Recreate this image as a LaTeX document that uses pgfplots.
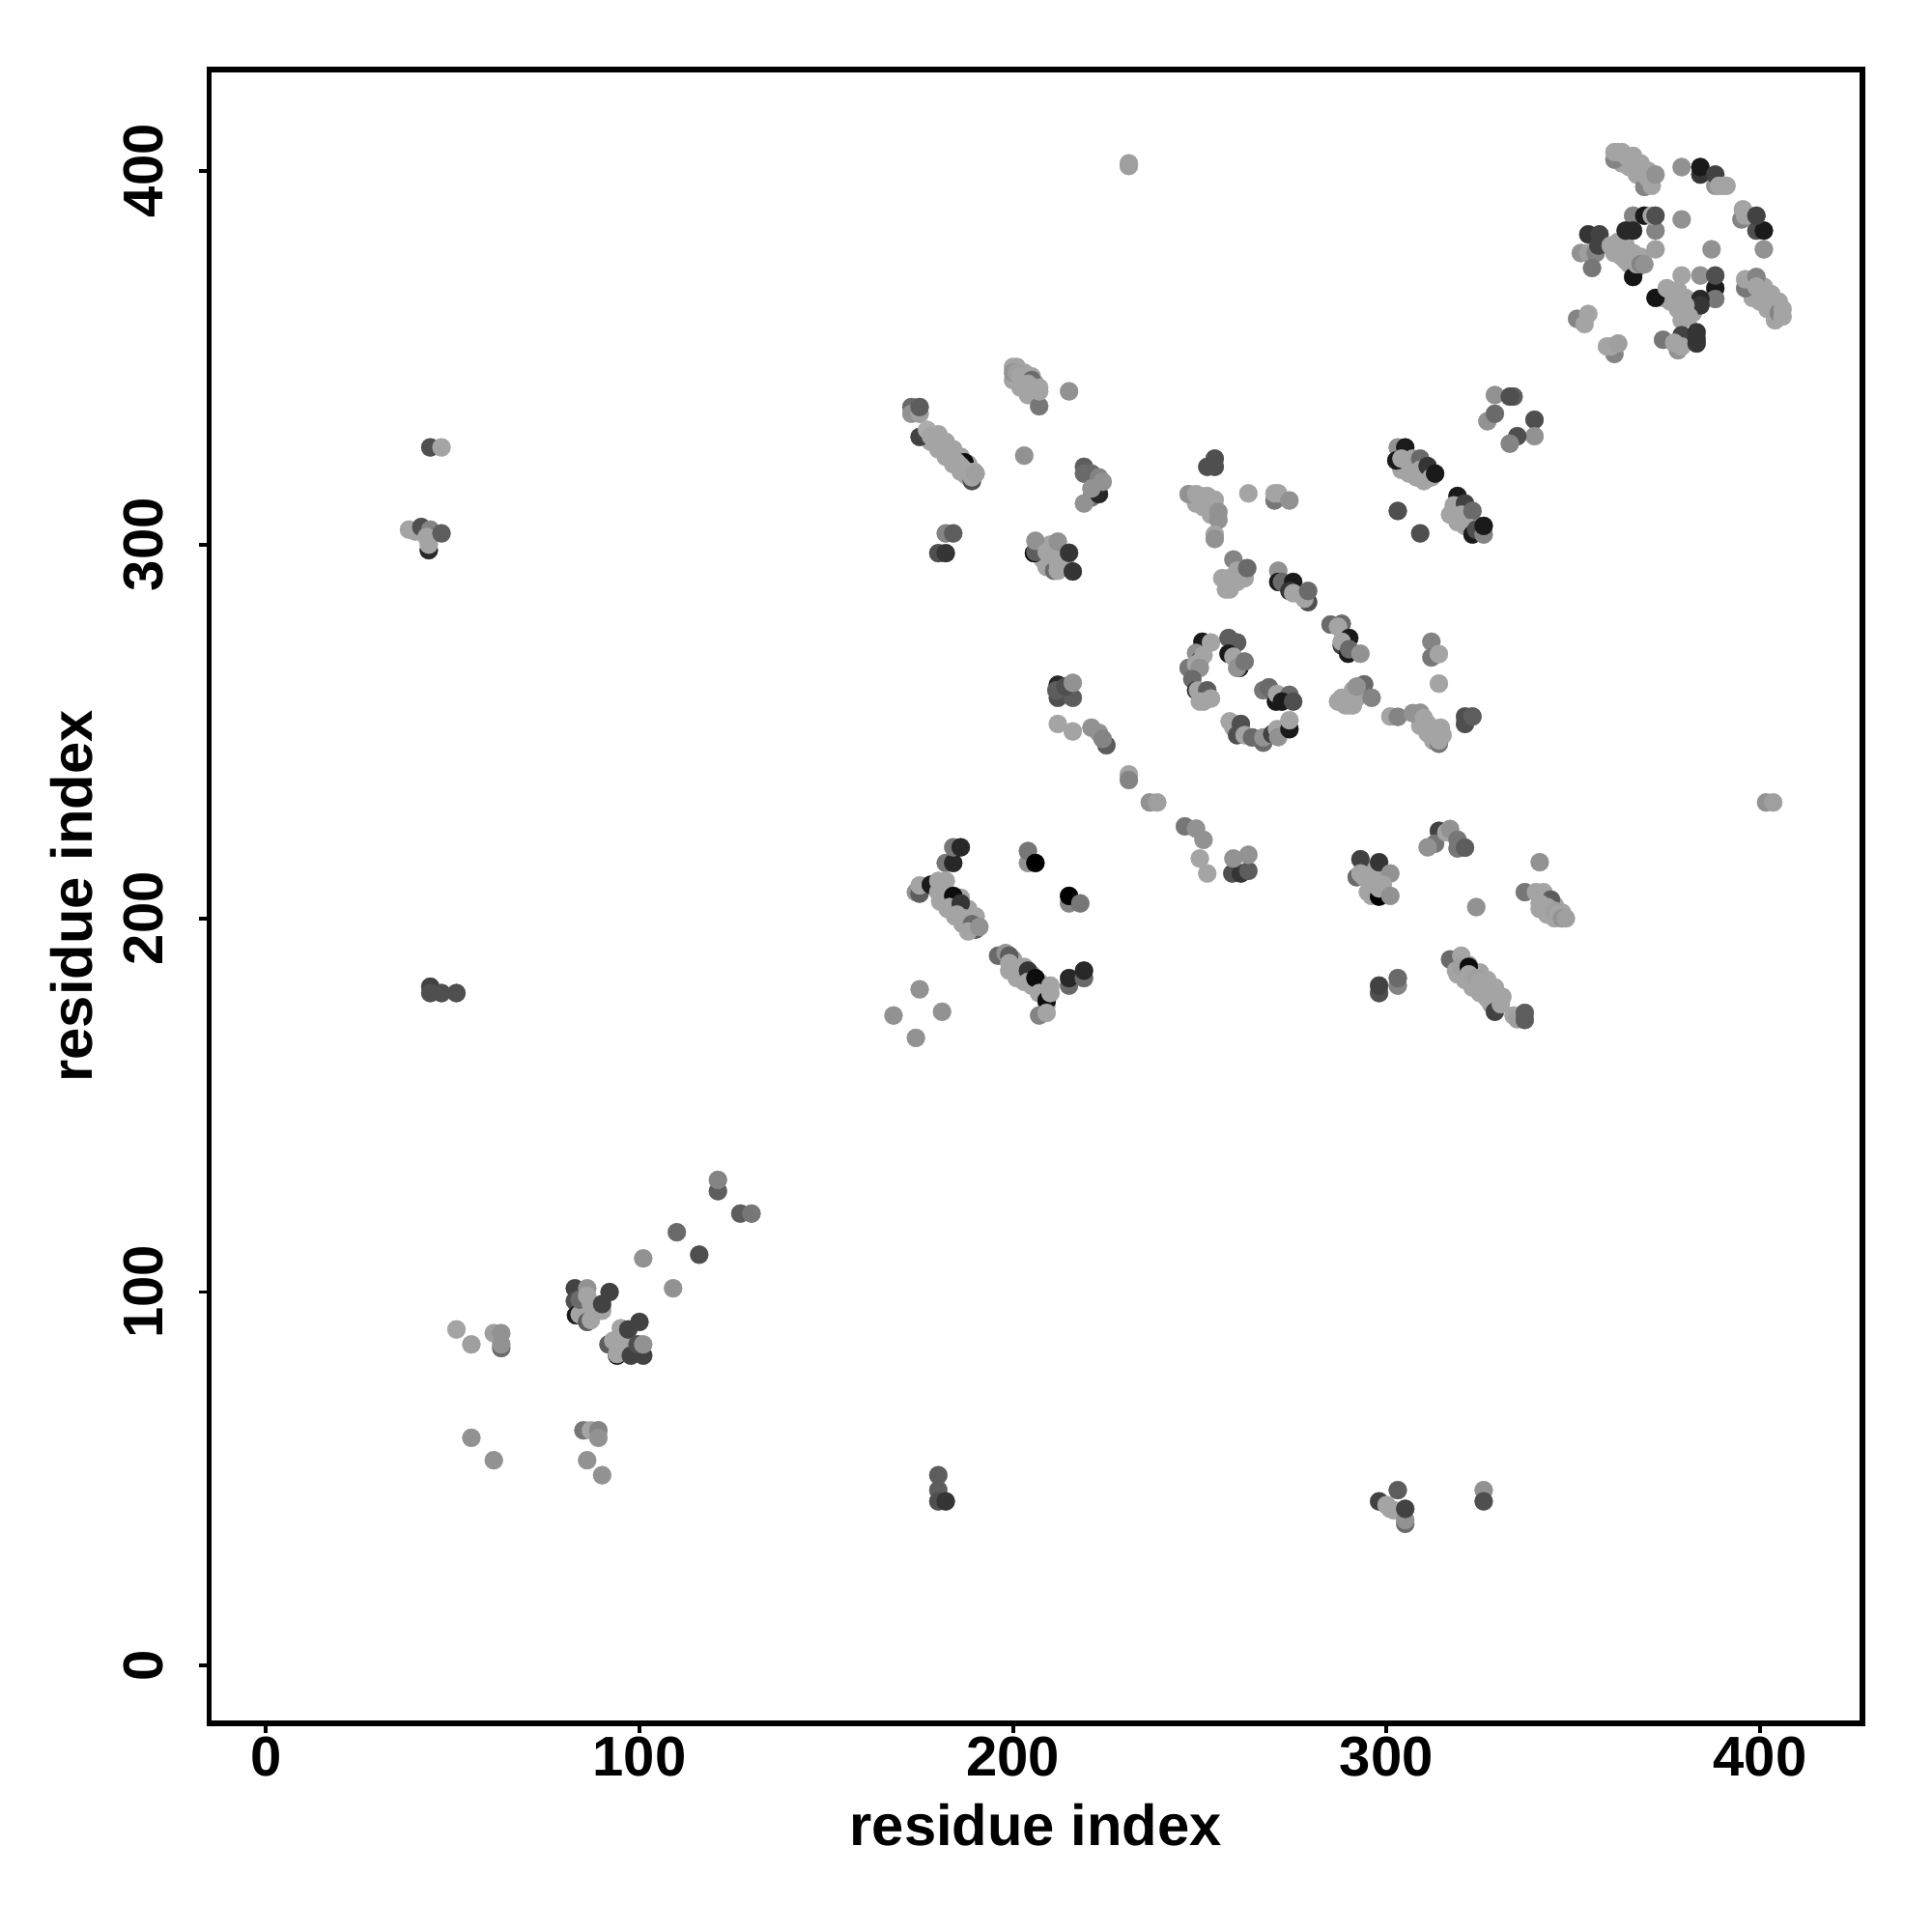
\documentclass[border=0pt]{standalone}
\usepackage{fontspec}
\setmainfont{Liberation Sans}
\usepackage{pgfplots}
\usepackage{pgfplotstable}
\pgfplotsset{compat=1.18}
\pgfplotstableread{
x y g
363 402 .62
365 401 .62
367 399 .62
369 397 .62
366 404 .62
368 402 .62
370 400 .62
361 378 .62
363 377 .62
365 375 .62
367 374 .62
362 381 .62
364 380 .62
366 378 .62
368 377 .62
364 376 .62
374 366 .62
376 365 .62
378 363 .62
378 368 .62
380 366 .62
381 364 .62
382 362 .62
379 360 .62
398 366 .62
400 365 .62
402 363 .62
401 369 .62
403 367 .62
405 365 .62
404 360 .62
178 327.5 .62
180 325.5 .62
182 323.5 .62
184 321.5 .62
186 319.5 .62
187.5 318.5 .62
180 329.5 .62
182 327.5 .62
184 325.5 .62
186 323.5 .62
188 321.5 .62
200 344 .62
202 342 .62
204 340 .62
203 346 .62
205 345 .62
206 343 .62
249 311 .62
251 310 .62
253 308 .62
252 313 .62
254 312 .62
309 251.5 .62
311 249.5 .62
312.5 247.5 .62
314.5 251 .62
315 249 .62
180.5 204.5 .62
182.5 202.5 .62
184.5 200.5 .62
186.5 198.5 .62
186 205.5 .62
188 202.5 .62
190 200.5 .62
188 197 .62
200 189 .62
203 187 .62
205 185 .62
207 183 .62
199 186 .62
201 184 .62
203 183 .62
205 182 .62
207 180 .62
209 177 .62
319 185 .62
321 183.5 .62
323 181.5 .62
325 180 .62
327 178.5 .62
328 177 .62
322 187.5 .62
325 185.5 .62
327 183.5 .62
329 181.5 .62
331 179 .62
341 202.5 .62
343 201 .62
345 200 .62
345 203.5 .62
347 201.5 .62
295 207 .62
296 206 .62
297 212 .62
299 212 .62
295 213 .62
208 296 .62
210 300 .62
212 297 .62
209 294 .62
214 296 .62
211 298 .62
287 258 .62
289 259 .62
292 259 .62
293 260 .62
256 291 .62
258 289 .62
260 290 .62
262 291 .62
304 320 .62
306 319 .62
308 318 .62
310 317 .62
317 308 .62
319 306 .62
321 305 .62
323 306 .62
44 326 .3
47 326 .62
38.3 304 .62
40 303.5 .62
41.6 304.7 .3
43.6 298.5 .15
43.6 300 .62
44 304 .5
43 302 .62
47 303 .35
44 181.7 .25
44 180 .3
47 180 .3
51 180 .3
231 401.3 .6
231 402 .6
231 238.5 .62
231 237 .5
236.6 231 .55
238.6 231 .6
246 224.6 .45
249 224 .55
251 221 .55
250 216 .62
252 212 .62
212 252 .62
216 250 .62
221 251 .55
223 249.6 .55
225 246.3 .35
224 248 .5
212 262.5 .15
212 259 .3
216 259 .35
211.6 261 .35
214 262 .3
216 263 .55
258.7 212 .3
261 212 .2
263 212.7 .35
259 216 .55
263 217 .55
401.6 231 .55
403.5 231 .6
334 339.6 .35
329 340 .55
333 339.6 .3
327 333 .55
329 335 .4
339.6 333.4 .3
339.6 329 .55
335 329 .3
333 327 .5
51 90 .62
55 86 .6
61 89 .6
63 85 .4
63 86 .55
63 89 .55
55 61 .55
61 55 .55
85 63 .45
87 63 .62
89 63 .5
89 61 .55
86 55 .55
90 51 .55
101 109 .55
109 101 .55
110 116 .4
116 110 .3
121 127 .35
121 130 .5
127 121 .35
130 121 .45
180 51 .35
180 47 .35
180 44 .3
182 44 .2
298 44 .25
300 43 .62
302 41.6 .62
303 47 .35
301 42 .62
305 38 .4
305 39 .55
305 42 .25
326 47 .55
326 44 .3
82.7 101 .25
82.7 97.6 .3
83 93.8 .1
84 94 .62
84 98 .4
86 101 .55
86 92 .35
87 92.5 .62
86 99 .62
87 96.8 .62
90 95 .62
92 100 .25
90 96.8 .25
91.7 86 .35
93 87 .62
94 83 .1
94 83.4 .62
95 90.3 .62
96 86.4 .62
97 90 .25
100 92 .25
97.7 83 .25
101 83 .25
99.5 86 .3
101 86 .55
361 403 .5
361 405 .62
362 405 .62
363 405 .62
364 404 .62
365 403 .62
366 402 .62
367 401 .62
368 400 .62
369 395.7 .5
371 396 .62
369 399 .62
370 398 .62
371 398 .62
372 399 .55
379 401 .55
384 399 .2
384 401 .1
388 396 .55
388 399 .25
389 396 .62
390 396 .62
391 396 .62
372 384 .5
366 388 .5
369 388 .1
371 388 .62
372 388 .3
379 387 .55
372 379 .6
387 379 .55
401 379 .55
399 384 .3
401 384 .1
395 387 .5
395.4 389.7 .62
396 388 .62
399 388 .25
364 384 .15
366 384 .15
354 383 .2
357 383 .25
352 378 .55
354 378 .6
356 378 .5
355 374 .45
356.7 380 .25
360 380 .62
361 380 .62
362 379 .62
363 379 .62
364 378 .62
365 377 .62
366 371.6 .08
366 376 .62
367 375 .62
368 375 .5
369 375 .55
379 372 .62
384 372 .55
388 368.6 .1
388 365.7 .45
388 372 .3
384 365.7 .15
384 364 .2
372 366 .08
375 368.6 .62
376 368 .62
377 367 .62
378 366 .62
379 365 .62
380 364 .62
380 362 .62
381 361 .62
396 368.6 .45
396 371 .62
399 371.6 .5
399 369 .62
400 368 .62
401 367 .62
402 366 .62
403 365 .62
404 364 .62
404 361 .62
405 362 .5
406 361 .62
406 363 .62
351 360.4 .5
354 361.7 .62
353 359 .62
361 351 .5
359 353 .62
360 353 .62
362 353.8 .6
374 354.8 .45
378 352 .55
379 356 .25
377 354 .62
379 353 .62
383 356.8 .2
383 355 .2
383 353.8 .2
172.8 336.8 .4
172.8 335 .55
175 335 .6
175 336.8 .35
175 328.8 .25
177 330.7 .65
178 329 .62
179 328 .62
180 328 .62
181 326 .62
182 325 .62
183 324 .62
184 323 .62
187 322 .05
185 322 .62
186 321 .62
187 320 .62
189 317 .3
189 318 .62
189.6 319.5 .62
190 319 .6
200 347.5 .62
201 347.5 .62
200 346 .55
201 346 .6
202 345 .62
203 344 .62
205 344 .4
204 343 .62
205 342 .62
207 337 .45
207 341 .62
207 342 .62
215 341 .55
203 323.8 .55
219 320.8 .35
219 319 .4
221 319 .4
223 318 .5
221 312.6 .45
219 311 .55
223 313.5 .15
221 315 .55
224 316.8 .55
182 303 .5
184 303 .35
180 297.7 .3
182 297.7 .2
205.6 297.7 .05
206 298 .35
206 301 .55
209 298 .62
210 296 .62
211 293 .4
212 295 .62
212 300.8 .55
212 293 .62
213 294 .62
215 297.8 .2
216 292.8 .2
254 323 .3
252 320.8 .3
254 320.8 .3
247 313.5 .55
249 313.5 .62
250 313 .62
251 312 .62
252 311.5 .62
253 311 .62
254 310 .62
255 308.7 .55
255 306.6 .55
254 302.7 .62
254 301.5 .55
263 313.7 .62
270 311.8 .45
270 313.7 .62
271 313.7 .62
274 311.8 .55
259 296 .5
257 288 .62
258 288 .62
257 290 .62
258 291 .62
259 291 .62
260 293 .62
261 293 .62
262.7 293.7 .4
271 293 .55
271 290 .1
272 290 .4
275 290 .1
274 287.6 .2
275 287 .62
279 284.6 .3
278 285.5 .62
279 287.6 .4
285 278.6 .4
288 278.8 .4
287 278 .62
290 275 .1
288 273 .25
288 274 .62
289.7 270.8 .1
290 272 .4
293 270.8 .55
250.7 274 .1
253 273.8 .62
257.7 275 .35
260 273.8 .35
257.7 270.8 .1
259 270 .62
260.6 267 .1
260 267 .55
262 268.7 .45
249 271 .55
250 269 .3
251 270.4 .62
247 267 .45
249 268 .62
250 267 .55
248 264 .4
249 261 .2
249.5 261 .62
252 261 .35
253 258.8 .62
250 258 .62
251 258 .62
267 261 .45
268.5 261.8 .4
270.4 258 .1
270.7 260 .62
274 259.8 .4
272 258 .1
275 258 .3
258 252.7 .62
259 251 .62
261 252 .3
260 249 .3
262 249 .62
264 248.4 .4
267 247 .4
267 248.4 .55
269.4 249.3 .25
270.7 250.6 .62
271 248.5 .55
274 250.6 .1
274 253 .62
294 262.6 .4
289 257 .62
290 257 .62
291 257 .62
288 259 .62
291 261 .62
292 262 .55
296 259 .5
312 274 .5
312 269.8 .45
314 270.7 .62
314 262.8 .62
301 254 .62
303 253.9 .5
307 254.9 .55
309 255 .55
310 253.6 .62
311 252 .62
312 251 .62
313 250 .62
314 246.7 .45
314 247.6 .62
314 249 .62
321 252 .3
321 254 .3
323 254 .35
303 326 .55
305 326 .1
302.6 322.5 .1
304 323 .62
307 323 .62
309 323 .4
310.8 317.8 .62
309 320 .62
311 321 .2
312 318 .62
313 319 .1
303 309 .3
309 303 .3
319 313 .1
318 310.5 .62
321 311 .25
320 308 .62
323 309 .4
322.4 304.4 .62
323 302.7 .1
324 304 .3
326 302.7 .5
326 305 .1
182 214.8 .45
184 214.8 .15
184 219 .45
186 219 .15
174 207 .55
175 206.6 .35
175 208.8 .62
178 209 .1
180 207 .62
180 210 .62
182 210 .62
181 205 .62
184 206 .05
183 203 .62
186 204 .2
185 201 .62
187 200 .62
188 199 .62
189 198.4 .4
190 197 .35
188 196.5 .62
191 197.7 .55
204 214.8 .55
204 218 .45
206 214.8 .0
215 204 .5
215 206 .0
218 204 .45
196 190 .4
198 190.7 .55
199 190 .35
199 188 .62
200 187 .62
201 186 .62
204 186 .2
204 183 .62
206 184 .05
207 180 .62
209 178 .05
210 180 .62
210 182 .62
207 174 .5
209 174.7 .62
215 182 .4
215 184 .15
219 184 .4
219 186 .15
175 181 .55
181 175 .55
168 174 .55
174 168 .55
293 215.8 .25
292 211 .4
298 205.8 .0
293 212 .62
294 211 .62
296 210 .62
297 209 .62
298 208 .62
298 215 .2
301 212 .55
299 209 .62
301 206 .55
314 223.4 .25
313 220 .45
311 219 .55
316 223 .62
317 223.9 .55
319 218.7 .45
319 221 .45
321 218.9 .35
324 203 .55
341 215 .55
337 207 .45
340 207 .62
342 207 .62
344 205 .35
341 204 .62
343 203 .62
345 202 .6
346 201 .62
347 200 .55
348 200 .6
298 180 .3
298 182 .25
303 182 .5
303 184 .4
317 189 .4
320 190 .62
318.6 186 .62
320 187 .6
322 187 .05
322 185 .62
324 184 .6
325 183 .62
326 181 .62
329 175 .25
328 180 .62
330.6 177 .62
334 174 .62
335 173 .6
337 172.8 .35
337 174.7 .35
}\pts
\begin{document}
\begin{tikzpicture}[x=1cm,y=1cm]
\useasboundingbox (-2.165,-2.16) rectangle +(20,20);
\begin{axis}[
  at={(0,0)},anchor=south west,
  scale only axis,width=17.115cm,height=17.12cm,
  xmin=-15.2,xmax=427.4,ymin=-15.4,ymax=427.1,
  axis line style={line width=1.7pt},
  xtick pos=bottom,ytick pos=left,
  tick align=outside,
  tick style={line width=1.1pt,black},
  major tick length=2.85pt,
  xtick={0,100,200,300,400},ytick={0,100,200,300,400},
  /pgf/number format/assume math mode=true,
  /pgf/number format/set thousands separator={},
  tick label style={font=\fontsize{16.5}{18}\selectfont\bfseries},
  xticklabel style={yshift=2.4pt},
  yticklabel style={rotate=90,anchor=south,yshift=7pt},
  xlabel={residue index},ylabel={residue index},
  label style={font=\fontsize{17}{19}\selectfont\bfseries},
  xlabel style={at={(axis description cs:0.5,0)},anchor=north,yshift=-20.2pt},
  ylabel style={at={(axis description cs:0,0.5)},anchor=south,yshift=30.6pt},
  colormap={g}{gray(0cm)=(0);gray(1cm)=(1)},
  point meta min=0,point meta max=0.97,
  clip=true,
]
\addplot[scatter,only marks,mark=*,mark size=2.68pt,
  mark options={line width=0.1pt},
  scatter src=explicit,
  scatter/use mapped color={draw=mapped color,fill=mapped color},
] table[x=x,y=y,meta=g] {\pts};
\end{axis}
\end{tikzpicture}
\end{document}
